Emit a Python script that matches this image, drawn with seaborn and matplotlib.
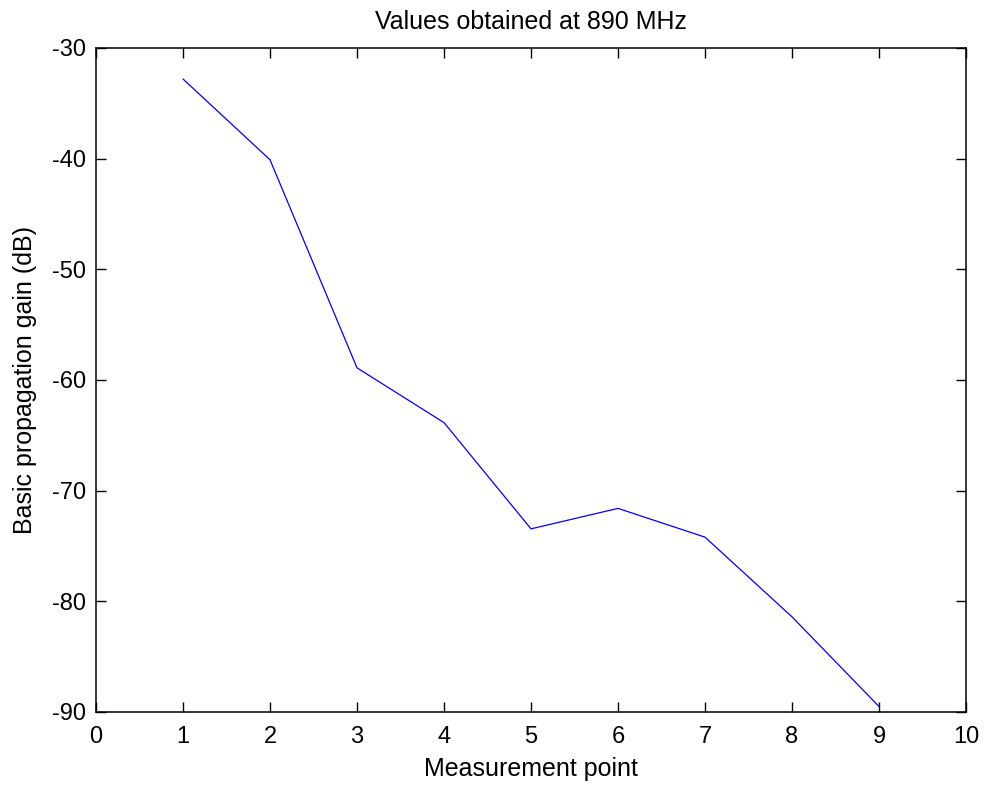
import matplotlib
matplotlib.use("Agg")
import matplotlib.pyplot as plt
import seaborn as sns
import pandas as pd

points = [1, 2, 3, 4, 5, 6, 7, 8, 9]
gain_db = [-32.8, -40.1, -58.9, -63.85, -73.45, -71.6, -74.2, -81.4, -89.5]
x_ticks = [0, 1, 2, 3, 4, 5, 6, 7, 8, 9, 10]
y_ticks = [-90, -80, -70, -60, -50, -40, -30]

sns.set_theme(style="ticks")
plt.rcParams['font.family'] = ['Liberation Sans', 'DejaVu Sans']
plt.rcParams['axes.unicode_minus'] = False
plt.rcParams['text.color'] = 'black'
plt.rcParams['axes.labelcolor'] = 'black'

df = pd.DataFrame({"point": points, "gain": gain_db})

fig = plt.figure(figsize=(9.84, 7.85), dpi=100)
ax = fig.add_axes([96/984, 1 - 712/785, 870/984, 664/785])
sns.lineplot(data=df, x="point", y="gain", ax=ax, color="#0000ff", linewidth=0.9)

ax.set_xlim(0, 10)
ax.set_ylim(-90, -30)
ax.set_xticks(x_ticks)
ax.set_yticks(y_ticks)
ax.tick_params(direction="in", top=True, right=True, length=7, width=1, labelsize=17, colors="black")
ax.tick_params(axis="x", pad=10)
ax.tick_params(axis="y", pad=7)
for s in ax.spines.values():
    s.set_visible(True)
    s.set_linewidth(1.1)
    s.set_color("black")
ax.set_xlabel("Measurement point", fontsize=18, labelpad=6.5, color="black")
ax.set_ylabel("Basic propagation gain (dB)", fontsize=18, labelpad=11, color="black")
ax.set_title("Values obtained at 890 MHz", fontsize=18, pad=14, color="black")

fig.savefig("out.png", dpi=100, facecolor="white")
